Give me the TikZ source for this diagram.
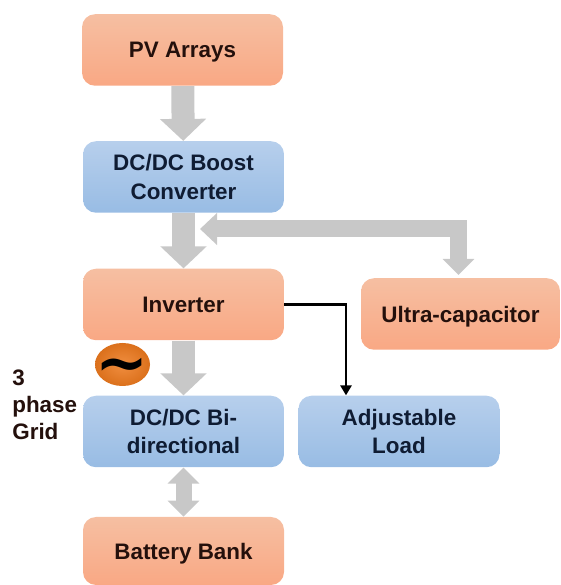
\documentclass[tikz,border=0pt]{standalone}
\usepackage{fontspec}
\setmainfont{Liberation Sans}
\newfontfamily\tildefont{DejaVu Sans}
\usetikzlibrary{arrows.meta,shapes.geometric}
\definecolor{peachtop}{HTML}{F6BFA2}
\definecolor{peachbot}{HTML}{F9A884}
\definecolor{skytop}{HTML}{B7CFEC}
\definecolor{skybot}{HTML}{98BCE4}
\definecolor{peachink}{HTML}{24100C}
\definecolor{skyink}{HTML}{0F1C33}
\definecolor{flow}{HTML}{C8C8C8}
\definecolor{ballcol}{HTML}{EE7A1E}
\tikzset{
  box/.style={rounded corners=.26cm,minimum width=4.02cm,minimum height=1.43cm,inner sep=0pt,align=center,
    font=\fontsize{12.75}{15.8}\selectfont\bfseries},
  peachbox/.style={box,top color=peachtop,bottom color=peachbot,text=peachink,text depth=0pt},
  skybox/.style={box,top color=skytop,bottom color=skybot,text=skyink},
  flowarrow/.style={draw=flow,line width=.46cm,-{Triangle[length=.44cm,width=.9cm]}},
  busarrow/.style={draw=flow,line width=.32cm,{Triangle[length=.32cm,width=.62cm]}-{Triangle[length=.32cm,width=.62cm]}},
  linkarrow/.style={draw=flow,line width=.34cm,{Triangle[length=.34cm,width=.62cm]}-{Triangle[length=.32cm,width=.62cm]}},
  feedarrow/.style={draw=black,line width=.055cm,-{Triangle[length=.2cm,width=.22cm]}}
}

\begin{document}
\begin{tikzpicture}
    \useasboundingbox (0,0) rectangle (11.2,11.7);
    \node [peachbox] (pv) at (3.65,10.7) {PV Arrays};
    \node [skybox] (boost) at (3.67,8.16) {DC/DC Boost\\[1pt]Converter};
    \node [peachbox] (inverter) at (3.67,5.61) {Inverter};
    \node [skybox] (bidir) at (3.67,3.07) {DC/DC Bi-\\directional};
    \node [peachbox,minimum height=1.36cm] (battery) at (3.67,.68) {Battery Bank};
    \node [peachbox,minimum width=3.98cm] (ultra) at (9.21,5.42) {Ultra-capacitor};
    \node [skybox] (load) at (7.98,3.07) {Adjustable\\Load};
    \node [ellipse,minimum width=1.1cm,minimum height=.86cm,inner sep=0pt,
      inner color=ballcol!85!white,outer color=ballcol!92!black,font=\tildefont\fontsize{36}{36}\selectfont\bfseries] (ac) at (2.45,4.41)
      {\smash{\makebox[0pt]{\raisebox{-.31em}{∼}}}};
    \node [anchor=west,inner sep=0pt,align=left,text=peachink,
      font=\fontsize{12.75}{15.4}\selectfont\bfseries] (grid) at (.24,3.6) {3\\phase\\Grid};
    \coordinate (merge) at (4,7.12);
    \draw [flowarrow] (pv) -- (boost);
    \draw [flowarrow] (boost) -- (inverter);
    \draw [flowarrow] (inverter) -- (bidir);
    \draw [busarrow] (bidir) -- (battery);
    \draw [linkarrow,shorten >=.06cm] (merge) -| ([xshift=-.04cm]ultra.north);
    \draw [feedarrow] (inverter.east) -| ([xshift=-1.06cm]load.north);
  \end{tikzpicture}
\end{document}
